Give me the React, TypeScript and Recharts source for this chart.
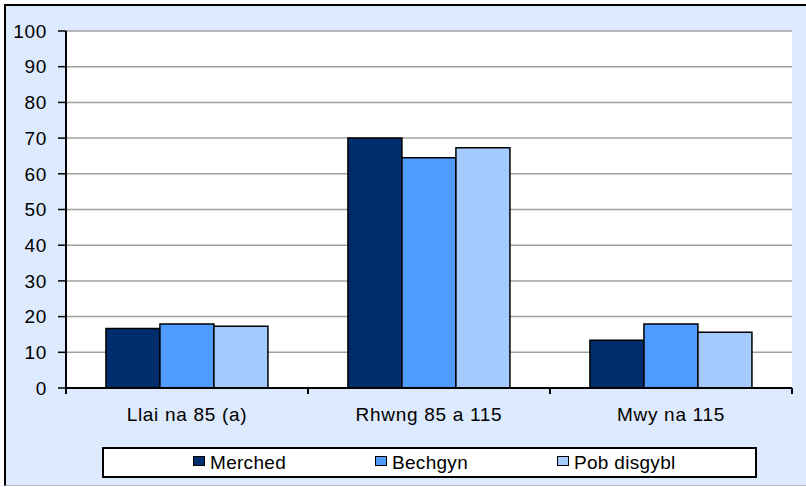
import { BarChart, Bar, XAxis, YAxis, CartesianGrid, Legend } from 'recharts';

const categories = ['Llai na 85 (a)', 'Rhwng 85 a 115', 'Mwy na 115'];
const seriesNames = ['Merched', 'Bechgyn', 'Pob disgybl'];
const merched = [16.7, 70.0, 13.4];
const bechgyn = [17.9, 64.5, 17.9];
const pobDisgybl = [17.3, 67.3, 15.6];
const yTicks = [0, 10, 20, 30, 40, 50, 60, 70, 80, 90, 100];

const data = categories.map((name, i) => ({
  name,
  merched: merched[i],
  bechgyn: bechgyn[i],
  pob: pobDisgybl[i],
}));

const font = '"Liberation Sans", Arial, sans-serif';
const textStyle = { fill: '#000', fontSize: 19, fontFamily: font, letterSpacing: 0.7 };

const X_TICK_GAP = 20; // tickSize + tickMargin on the category axis

// category label plus the boundary tick marks Excel draws between categories
const CategoryTick = (props: any) => {
  const { x, y, payload, index, visibleTicksCount } = props;
  const half = payload.offset || 0;
  const axisY = y - X_TICK_GAP;
  const last = index === visibleTicksCount - 1;
  return (
    <g>
      <line x1={x - half} x2={x - half} y1={axisY} y2={axisY + 6} stroke="#000" strokeWidth={2} />
      {last && <line x1={x + half} x2={x + half} y1={axisY} y2={axisY + 6} stroke="#000" strokeWidth={2} />}
      <text x={x} y={y} dy="0.71em" textAnchor="middle" {...textStyle}>
        {payload.value}
      </text>
    </g>
  );
};

const renderLegend = (props: any) => {
  const { payload } = props;
  // keep series order (legend sorts by name otherwise)
  const items = seriesNames.map((n) => payload.find((p: any) => p.value === n)).filter(Boolean);
  return (
    <div
      style={{
        boxSizing: 'border-box',
        width: 655,
        height: 31,
        background: '#fff',
        border: '2px solid #000',
        display: 'flex',
        alignItems: 'center',
        paddingLeft: 89,
        fontFamily: font,
        fontSize: 19,
        letterSpacing: 0.3,
        color: '#000',
      }}
    >
      {items.map((entry: any) => (
        <div key={entry.value} style={{ width: 182, display: 'flex', alignItems: 'center' }}>
          <span
            style={{
              boxSizing: 'border-box',
              display: 'inline-block',
              width: 12,
              height: 10,
              background: entry.color,
              border: '1.5px solid #000',
              marginRight: 5,
              marginTop: -4,
            }}
          />
          <span>{entry.value}</span>
        </div>
      ))}
    </div>
  );
};

const App = () => {
  return (
    <div style={{ position: 'absolute', left: 0, top: 0, width: 806, height: 487 }}>
      <div
        style={{
          position: 'absolute',
          left: 4,
          top: 4,
          width: 802,
          height: 482,
          boxSizing: 'border-box',
          background: '#dde9fd',
          borderTop: '2px solid #000',
          borderLeft: '2px solid #000',
          borderBottom: '1px solid #b4b4b4',
        }}
      />
      <div style={{ position: 'absolute', left: 0, top: 0 }}>
        <BarChart
          width={806}
          height={487}
          data={data}
          margin={{ top: 31, right: 14, left: 6, bottom: 39 }}
          barCategoryGap="16.5%"
          barGap={0}
        >
          <CartesianGrid vertical={false} stroke="#a0a0a0" strokeWidth={1.5} fill="#fff" />
          <XAxis
            dataKey="name"
            height={60}
            axisLine={{ stroke: '#000', strokeWidth: 2 }}
            tickLine={false}
            tickSize={6}
            tickMargin={14}
            tick={<CategoryTick />}
          />
          <YAxis
            width={60}
            domain={[0, 100]}
            ticks={yTicks}
            interval={0}
            axisLine={{ stroke: '#000', strokeWidth: 2 }}
            tickLine={{ stroke: '#000', strokeWidth: 1.5 }}
            tickSize={8}
            tickMargin={11}
            tick={textStyle}
          />
          <YAxis
            yAxisId="right"
            orientation="right"
            width={0}
            domain={[0, 100]}
            tick={false}
            tickLine={false}
            axisLine={{ stroke: '#8c8c8c', strokeWidth: 2 }}
          />
          <Legend
            layout="horizontal"
            verticalAlign="middle"
            align="center"
            content={renderLegend}
            wrapperStyle={{ top: 447, left: 102, width: 655, height: 31 }}
          />
          <Bar dataKey="merched" name={seriesNames[0]} fill="#002d6b" stroke="#000" strokeWidth={1.5} isAnimationActive={false} />
          <Bar dataKey="bechgyn" name={seriesNames[1]} fill="#4f9bff" stroke="#000" strokeWidth={1.5} isAnimationActive={false} />
          <Bar dataKey="pob" name={seriesNames[2]} fill="#a3cbff" stroke="#000" strokeWidth={1.5} isAnimationActive={false} />
        </BarChart>
      </div>
    </div>
  );
};

export default App;
